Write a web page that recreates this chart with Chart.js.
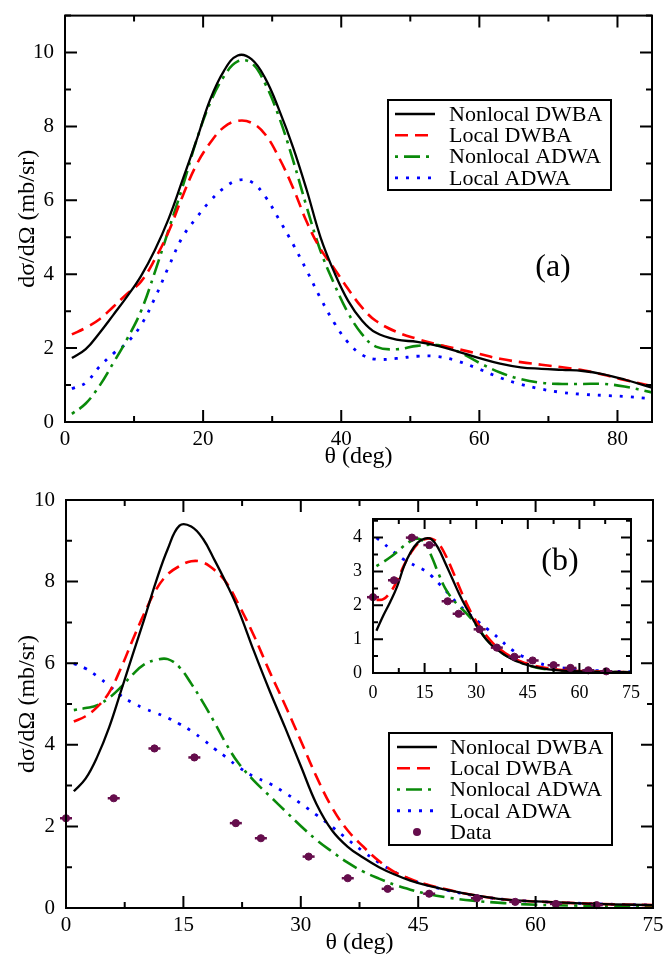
<!DOCTYPE html>
<html>
<head>
<meta charset="utf-8">
<script src="https://cdn.jsdelivr.net/npm/chart.js@4.4.0/dist/chart.umd.min.js"></script>
<style>
  html, body { margin:0; padding:0; background:#fff; }
  #wrap { position:relative; width:663px; height:956px; overflow:hidden; }
  canvas { position:absolute; }
</style>
</head>
<body>
<div id="wrap">
  <canvas id="chartA" width="663" height="475" style="left:0;top:0"></canvas>
  <canvas id="chartB" width="663" height="481" style="left:0;top:475px"></canvas>
  <canvas id="chartInset" width="320" height="195" style="left:330px;top:505px"></canvas>
</div>
<script>
// ── Panel (a) ──────────────────────────────────
const thetaA = [1,3,5,7,9,11,13,15,17,19,21,23,25,27,29,31,33,35,37,39,41,43,45,48,51,54,57,60,63,66,69,72,75,78,81,85];
const aNonlocalDWBA = [1.73,1.97,2.41,2.9,3.4,3.95,4.65,5.5,6.54,7.6,8.72,9.5,9.92,9.82,9.3,8.45,7.45,6.28,5.0,4.05,3.28,2.75,2.42,2.23,2.17,2.06,1.9,1.73,1.58,1.48,1.44,1.41,1.38,1.29,1.15,0.93];
const aLocalDWBA    = [2.37,2.55,2.78,3.12,3.47,3.8,4.4,5.15,6.1,6.95,7.55,7.98,8.15,8.1,7.78,7.15,6.35,5.42,4.68,4.15,3.6,3.1,2.74,2.44,2.25,2.1,1.97,1.84,1.71,1.62,1.55,1.48,1.4,1.28,1.14,0.97];
const aNonlocalADWA = [0.22,0.5,0.98,1.6,2.25,3.0,4.05,5.2,6.35,7.6,8.63,9.35,9.76,9.72,9.15,8.25,7.1,5.82,4.63,3.73,2.95,2.38,2.04,1.97,2.06,2.08,1.9,1.6,1.34,1.16,1.06,1.03,1.03,1.03,0.96,0.8];
const aLocalADWA    = [0.9,1.06,1.5,1.85,2.15,2.62,3.35,4.2,5.0,5.52,5.98,6.33,6.54,6.5,6.1,5.48,4.82,4.1,3.35,2.68,2.15,1.82,1.7,1.72,1.78,1.77,1.64,1.43,1.2,1.02,0.89,0.8,0.75,0.72,0.69,0.63];
const xTicksA = [0,20,40,60,80];
const yTicksA = [0,2,4,6,8,10];

// ── Panel (b) ──────────────────────────────────
const thetaB = [1,2.5,4,5.5,7,8.5,10,11.5,13,14.5,16,17.5,19,20.5,22,24,26,28,30,32,34,36,38,40,42,44,46,49,52,56,60,65,70,75];
const bNonlocalDWBA = [2.86,3.17,3.71,4.42,5.3,6.2,7.08,8.0,8.8,9.37,9.35,9.05,8.52,7.95,7.32,6.3,5.33,4.42,3.48,2.55,1.9,1.5,1.23,1.0,0.82,0.67,0.56,0.43,0.32,0.21,0.16,0.12,0.09,0.07];
const bLocalDWBA    = [4.57,4.7,4.93,5.28,5.87,6.56,7.22,7.8,8.18,8.38,8.5,8.47,8.28,7.97,7.46,6.68,5.8,4.97,4.1,3.22,2.46,1.9,1.5,1.15,0.88,0.71,0.58,0.44,0.32,0.21,0.16,0.12,0.09,0.07];
const bNonlocalADWA = [4.85,4.9,4.97,5.15,5.41,5.72,5.97,6.08,6.1,5.9,5.5,5.04,4.54,4.01,3.56,3.12,2.75,2.38,2.01,1.67,1.38,1.11,0.89,0.72,0.57,0.45,0.35,0.25,0.18,0.12,0.08,0.06,0.05,0.04];
const bLocalADWA    = [5.99,5.87,5.68,5.45,5.21,5.03,4.89,4.78,4.66,4.51,4.34,4.13,3.9,3.69,3.46,3.22,3.05,2.82,2.56,2.28,1.99,1.68,1.38,1.11,0.88,0.7,0.57,0.42,0.31,0.21,0.16,0.12,0.09,0.07];
const dataTheta = [0,6.1,11.3,16.4,21.7,24.9,31,36,41.1,46.4,52.5,57.4,62.6,67.8];
const dataB     = [2.2,2.69,3.91,3.69,2.08,1.71,1.26,0.73,0.47,0.35,0.24,0.15,0.1,0.07];
const xTicksB = [0,15,30,45,60,75];
const yTicksB = [0,2,4,6,8,10];

// ── Inset of (b) ───────────────────────────────
const thetaIn = [1,3,5,7,9,11,13,15,17,19,21,23,25,27,29,31,33,35,37,39,41,43,45,48,51,55,60,65,70,75];
const inNonlocalDWBA = [1.25,1.7,2.1,2.55,3.15,3.58,3.85,3.97,3.95,3.68,3.25,2.8,2.35,1.95,1.6,1.25,0.98,0.77,0.62,0.49,0.38,0.3,0.23,0.16,0.11,0.07,0.05,0.03,0.03,0.02];
const inLocalDWBA    = [2.16,2.18,2.38,2.72,3.18,3.55,3.82,3.95,3.97,3.83,3.5,3.05,2.56,2.1,1.7,1.38,1.1,0.87,0.7,0.55,0.44,0.34,0.27,0.19,0.14,0.09,0.06,0.04,0.03,0.02];
const inNonlocalADWA = [3.16,3.28,3.42,3.58,3.76,3.9,3.97,3.85,3.45,2.95,2.5,2.2,1.98,1.78,1.55,1.27,0.99,0.8,0.63,0.5,0.4,0.31,0.23,0.15,0.1,0.07,0.05,0.04,0.03,0.02];
const inLocalADWA    = [3.99,3.84,3.66,3.5,3.35,3.24,3.13,3.03,2.87,2.66,2.45,2.22,2.01,1.83,1.65,1.48,1.32,1.16,0.98,0.8,0.64,0.52,0.43,0.3,0.22,0.15,0.1,0.07,0.05,0.04];
const inData         = [2.24,2.74,4.0,3.78,2.12,1.75,1.29,0.75,0.48,0.37,0.23,0.15,0.08,0.05];
const xTicksIn = [0,15,30,45,60,75];
const yTicksIn = [0,1,2,3,4];

const seriesNames = ['Nonlocal DWBA','Local DWBA','Nonlocal ADWA','Local ADWA'];

// ── Styles ─────────────────────────────────────
const SERIF = '"Liberation Serif", "Times New Roman", serif';
const STYLES = [
  { color:'#000000', width:2.3, dash:[],          offset:0 },
  { color:'#ff0000', width:2.6, dash:[13,7],      offset:0 },
  { color:'#0a8a0a', width:2.6, dash:[16,6,3,6],  offset:22 },
  { color:'#0000ff', width:2.8, dash:[3,8],       offset:0 },
];
const DATA_COLOR = '#650d4c';

const pts = (xs, ys) => xs.map((x, i) => ({ x, y: ys[i] }));

function curveSets(xs, lists) {
  return lists.map((ys, i) => ({
    label: seriesNames[i], data: pts(xs, ys),
    borderColor: STYLES[i].color, backgroundColor: STYLES[i].color,
    borderWidth: STYLES[i].width, borderDash: STYLES[i].dash, borderDashOffset: STYLES[i].offset,
    pointRadius: 0, tension: 0.4, fill: false,
  }));
}
function dataSets(xs, ys) {
  return [
    { label:'Data', data: pts(xs, ys), showLine:false, pointStyle:'circle', pointRadius:3.6,
      backgroundColor: DATA_COLOR, borderColor: DATA_COLOR, borderWidth:1, clip:false },
    { label:'_cap', data: pts(xs, ys), showLine:false, pointStyle:'line', pointRadius:6,
      borderColor: DATA_COLOR, borderWidth:2.5, clip:false },
  ];
}

// ── Frame, inward ticks, titles, legend ────────
const deco = {
  id: 'deco',
  beforeDraw(chart, args, o) {
    if (!o.whiteArea) return;
    const { ctx, chartArea: a } = chart;
    ctx.save(); ctx.fillStyle = '#fff';
    ctx.fillRect(a.left, a.top, a.right - a.left, a.bottom - a.top);
    ctx.restore();
  },
  afterDraw(chart, args, o) {
    const { ctx, chartArea: a, scales: { x, y } } = chart;
    ctx.save();
    ctx.strokeStyle = '#000'; ctx.lineWidth = 2; ctx.setLineDash([]);
    ctx.strokeRect(a.left, a.top, a.right - a.left, a.bottom - a.top);

    const marks = (scale, minor, major, cb) => {
      const n = Math.floor((scale.max - scale.min) / minor + 1e-6);
      for (let k = 0; k <= n; k++) {
        const v = scale.min + k * minor;
        const isMajor = Math.abs(v / major - Math.round(v / major)) < 1e-6;
        cb(scale.getPixelForValue(v), isMajor ? o.major : o.minor);
      }
    };
    ctx.beginPath();
    marks(x, o.xMinor, o.xMajor, (p, len) => {
      ctx.moveTo(p, a.bottom); ctx.lineTo(p, a.bottom - len);
      ctx.moveTo(p, a.top);    ctx.lineTo(p, a.top + len);
    });
    marks(y, o.yMinor, o.yMajor, (p, len) => {
      ctx.moveTo(a.left, p);  ctx.lineTo(a.left + len, p);
      ctx.moveTo(a.right, p); ctx.lineTo(a.right - len, p);
    });
    ctx.stroke();

    ctx.fillStyle = '#000';
    ctx.textAlign = 'center'; ctx.textBaseline = 'middle';
    if (o.xTitle) {
      ctx.font = `24px ${SERIF}`;
      ctx.fillText(o.xTitle, (a.left + a.right) / 2, a.bottom + o.xTitleGap);
    }
    if (o.yTitle) {
      ctx.font = `24px ${SERIF}`;
      ctx.save();
      ctx.translate(o.yTitleX, (a.top + a.bottom) / 2);
      ctx.rotate(-Math.PI / 2);
      ctx.fillText(o.yTitle, 0, 0);
      ctx.restore();
    }
    if (o.tag) {
      ctx.font = `32px ${SERIF}`;
      ctx.fillText(o.tag.text, o.tag.x, o.tag.y);
    }

    const L = o.legend;
    if (L) {
      ctx.fillStyle = '#fff';
      ctx.fillRect(L.x, L.y, L.w, L.h);
      ctx.lineWidth = 2; ctx.strokeStyle = '#000';
      ctx.strokeRect(L.x, L.y, L.w, L.h);
      L.rows.forEach((lab, i) => {
        const ry = L.y0 + i * L.dy;
        const ds = chart.data.datasets.find(d => d.label === lab);
        if (ds.showLine === false) {
          ctx.fillStyle = ds.backgroundColor;
          ctx.beginPath(); ctx.arc((L.sx1 + L.sx2) / 2, ry, 4, 0, Math.PI * 2); ctx.fill();
        } else {
          ctx.strokeStyle = ds.borderColor; ctx.lineWidth = ds.borderWidth;
          ctx.setLineDash(ds.borderDash); ctx.lineDashOffset = ds.borderDashOffset || 0;
          ctx.beginPath(); ctx.moveTo(L.sx1, ry); ctx.lineTo(L.sx2, ry); ctx.stroke();
          ctx.setLineDash([]); ctx.lineDashOffset = 0;
        }
        ctx.fillStyle = '#000'; ctx.textAlign = 'left';
        ctx.font = `22px ${SERIF}`;
        ctx.fillText(lab, L.tx, ry + 1);
      });
    }
    ctx.restore();
  }
};

function axis(min, max, ticks, size, pad, fit, isX) {
  return {
    type: 'linear', min, max,
    afterBuildTicks: s => { s.ticks = ticks.map(v => ({ value: v })); },
    afterFit: s => { if (isX) s.height = fit; else s.width = fit; },
    ticks: { font: { family: SERIF, size }, color: '#000', padding: pad, autoSkip: false, maxRotation: 0 },
    grid: { display: false }, border: { display: false },
  };
}

function makeChart(id, datasets, scales, padding, decoOpts) {
  return new Chart(document.getElementById(id), {
    type: 'line',
    data: { datasets },
    options: {
      responsive: false, animation: false,
      layout: { padding },
      plugins: { legend: { display: false }, tooltip: { enabled: false }, deco: decoOpts },
      scales,
    },
    plugins: [deco],
  });
}

// (a)
makeChart('chartA',
  curveSets(thetaA, [aNonlocalDWBA, aLocalDWBA, aNonlocalADWA, aLocalADWA]),
  { x: axis(0, 85, xTicksA, 21, -3, 53, true), y: axis(0, 11, yTicksA, 21, 3, 65, false) },
  { top: 13, right: 11, left: 0, bottom: 0 },
  { major: 12, minor: 6, xMajor: 20, xMinor: 10, yMajor: 2, yMinor: 1,
    xTitle: 'θ (deg)', xTitleGap: 35, yTitle: 'dσ/dΩ (mb/sr)', yTitleX: 28,
    tag: { text: '(a)', x: 553, y: 268 },
    legend: { x: 388, y: 100, w: 223, h: 90, y0: 114, dy: 21.3, sx1: 395, sx2: 435, tx: 449,
              rows: seriesNames } });

// (b)
makeChart('chartB',
  [...dataSets(dataTheta, dataB), ...curveSets(thetaB, [bNonlocalDWBA, bLocalDWBA, bNonlocalADWA, bLocalADWA])],
  { x: axis(0, 75, xTicksB, 21, -3, 48, true), y: axis(0, 10, yTicksB, 21, 3, 66, false) },
  { top: 25, right: 10, left: 0, bottom: 0 },
  { major: 12, minor: 6, xMajor: 15, xMinor: 7.5, yMajor: 2, yMinor: 1,
    xTitle: 'θ (deg)', xTitleGap: 35, yTitle: 'dσ/dΩ (mb/sr)', yTitleX: 28,
    legend: { x: 389, y: 258, w: 223, h: 112, y0: 272, dy: 21.25, sx1: 397, sx2: 437, tx: 450,
              rows: [...seriesNames, 'Data'] } });

// inset
makeChart('chartInset',
  [...dataSets(dataTheta, inData), ...curveSets(thetaIn, [inNonlocalDWBA, inLocalDWBA, inNonlocalADWA, inLocalADWA])],
  { x: axis(0, 75, xTicksIn, 18, 1, 27, true), y: axis(0, 4.55, yTicksIn, 18, 3, 43, false) },
  { top: 14, right: 19, left: 0, bottom: 0 },
  { whiteArea: true, major: 10, minor: 5, xMajor: 15, xMinor: 7.5, yMajor: 1, yMinor: 0.5,
    tag: { text: '(b)', x: 230, y: 57 } });
</script>
</body>
</html>
